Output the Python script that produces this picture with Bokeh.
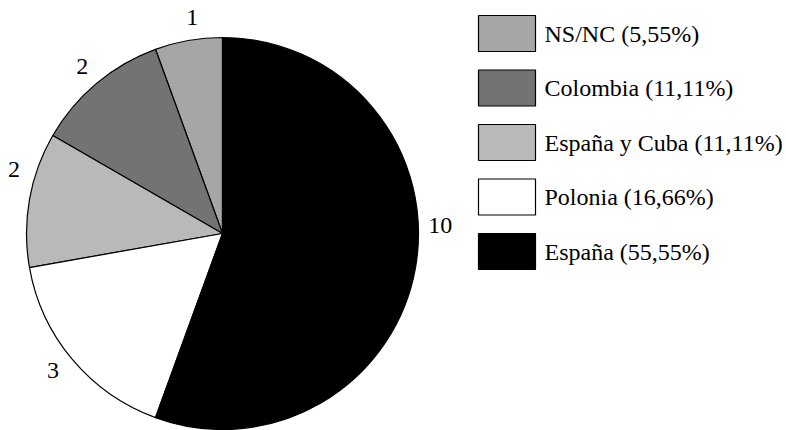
import math
from bokeh.plotting import figure
from bokeh.models import Range1d, ColumnDataSource
from bokeh.core.properties import value
from bokeh.embed import file_html
from bokeh.resources import INLINE

# data (counter-clockwise from 12 o'clock)
categories = ["NS/NC", "Colombia", "España y Cuba", "Polonia", "España"]
counts = [1, 2, 2, 3, 10]
percent_labels = ["5,55%", "11,11%", "11,11%", "16,66%", "55,55%"]
colors = ["#a6a6a6", "#737373", "#b9b9b9", "#ffffff", "#000000"]

# layout: small angular nudges (degrees) of the count labels
label_nudge_deg = [-2, 0, -7, -1, 12]

W, H = 786, 430
p = figure(width=W, height=H, output_backend="svg", toolbar_location=None,
           x_range=Range1d(0, W), y_range=Range1d(0, H),
           min_border=0, outline_line_color=None)
p.axis.visible = False
p.grid.visible = False
p.background_fill_color = "white"
p.border_fill_color = "white"

cx, cy, R = 222, 197, 196
total = sum(counts)
starts, ends, mids = [], [], []
a = math.pi / 2
for c in counts:
    s = a
    e = a + 2 * math.pi * c / total
    starts.append(s)
    ends.append(e)
    mids.append((s + e) / 2)
    a = e

src = ColumnDataSource(dict(start=starts, end=ends, color=colors))
p.wedge(x=cx, y=cy, radius=R, start_angle="start", end_angle="end",
        fill_color="color", line_color="black", line_width=1.2, source=src)

lr = R + 22
lang = [m + math.radians(d) for m, d in zip(mids, label_nudge_deg)]
p.text(x=[cx + lr * math.cos(m) for m in lang],
       y=[cy + lr * math.sin(m) for m in lang],
       text=[str(c) for c in counts],
       text_font=value("Liberation Serif"), text_font_size="24px",
       text_align="center", text_baseline="middle", text_color="black")

# legend drawn manually
n = len(categories)
ly = [H - 33 - i * 54.5 for i in range(n)]
p.rect(x=[506.5] * n, y=ly, width=57, height=36, fill_color=colors,
       line_color="black", line_width=1.2)
p.text(x=[544] * n, y=ly,
       text=[f"{c} ({pl})" for c, pl in zip(categories, percent_labels)],
       text_font=value("Liberation Serif"), text_font_size="24px",
       text_align="left", text_baseline="middle", text_color="black")

open("out.html", "w").write(file_html(p, INLINE))
